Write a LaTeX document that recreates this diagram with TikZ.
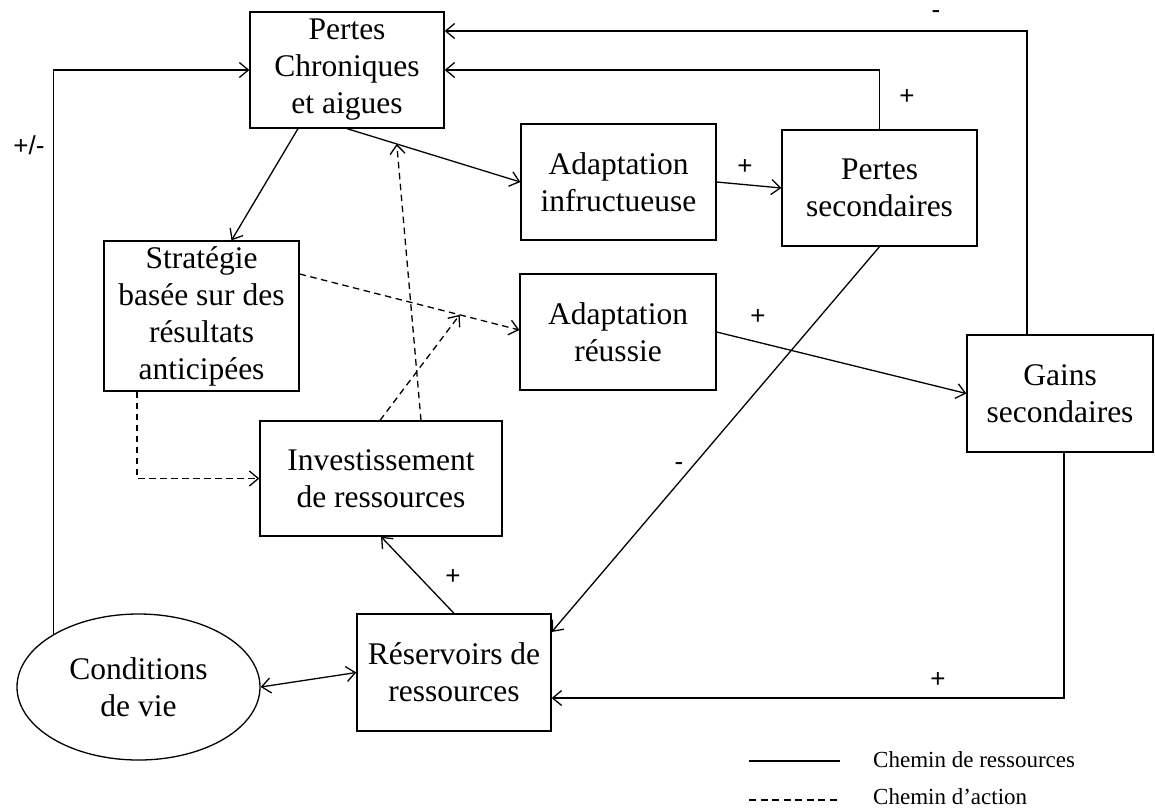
\documentclass[tikz,border=0pt]{standalone}
\usepackage{fontspec}
\setmainfont{Liberation Serif}
\newfontfamily\signfont{Liberation Sans}
\usetikzlibrary{arrows.meta,shapes.geometric}
\begin{document}
\begin{tikzpicture}[x=1pt,y=-1pt,
  box/.style={draw, line width=1.3pt, inner sep=0pt, align=center, font=\fontsize{31.5}{37}\selectfont},
  conn/.style={line width=1.3pt, -{Straight Barb[length=9pt,width=15pt]}},
  biconn/.style={line width=1.3pt, {Straight Barb[length=9pt,width=15pt]}-{Straight Barb[length=9pt,width=15pt]}},
  darr/.style={conn, dash pattern=on 6.5pt off 4.5pt},
  sign/.style={font=\signfont\fontsize{26}{30}\selectfont, inner sep=0pt},
  legendtext/.style={font=\fontsize{23}{27}\selectfont, inner sep=0pt, anchor=base west}
]
\useasboundingbox (0,0) rectangle (1155,809);

% nodes
\node[box, minimum width=194pt, minimum height=116pt] (pc) at (347,70) {Pertes\\Chroniques\\et aigues};
\node[box, minimum width=195pt, minimum height=116pt] (ai) at (618.5,182) {Adaptation\\infructueuse};
\node[box, minimum width=195pt, minimum height=116pt] (ps) at (879.5,188) {Pertes\\secondaires};
\node[box, minimum width=195pt, minimum height=150pt] (st) at (201.5,316) {Stratégie\\basée sur des\\résultats\\anticipées};
\node[box, minimum width=196pt, minimum height=116pt] (ar) at (618,332) {Adaptation\\réussie};
\node[box, minimum width=186pt, minimum height=117pt] (gs) at (1060,393.5) {Gains\\secondaires};
\node[box, minimum width=242pt, minimum height=115pt] (inv) at (381,478.5) {Investissement\\de ressources};
\node[box, minimum width=194pt, minimum height=117pt] (rv) at (454,672.5) {Réservoirs de\\ressources};
\node[box, ellipse, minimum width=243pt, minimum height=146pt] (cv) at (138.5,687) {Conditions\\de vie};

% solid connectors
\draw[conn] (cv.148.7) |- (pc.west);
\draw[conn] ([xshift=-33pt]gs.north) |- ([yshift=39pt]pc.east);
\draw[conn] (ps.north) |- (pc.east);
\draw[conn] ([xshift=-49pt]pc.south) -- ([xshift=30pt]st.north);
\draw[conn] (pc.south) -- coordinate[pos=0.287] (m2) (ai.west);
\draw[conn] (ai.east) -- (ps.west);
\draw[conn] (ps.south) -- ([yshift=40.5pt]rv.east);
\draw[conn] (ar.east) -- (gs.west);
\draw[conn] ([xshift=4pt]gs.south) |- ([yshift=-25.5pt]rv.east);
\draw[conn] (rv.north) -- (inv.south);
\draw[biconn] (cv.east) -- (rv.west);

% dashed connectors
\draw[darr] ([yshift=42pt]st.east) -- coordinate[pos=0.7285] (m1) ([yshift=2pt]ar.west);
\draw[darr] ([xshift=-1pt]inv.north) -- (m1);
\draw[darr] ([xshift=40pt]inv.north) -- (m2);
\draw[darr] ([xshift=-64.5pt]st.south) |- (inv.west);

% signs
\node[sign] (s1) at (29,145) {+/-};
\node[sign] (s2) at (936,15) {-};
\node[sign] (s3) at (907,97) {+};
\node[sign] (s4) at (745,167) {+};
\node[sign] (s5) at (758,317) {+};
\node[sign] (s6) at (679,467) {-};
\node[sign] (s7) at (453,577) {+};
\node[sign] (s8) at (938,680) {+};

% legend
\coordinate (la1) at (749,761);
\coordinate (la2) at (840,761);
\coordinate (lb1) at (749,800);
\coordinate (lb2) at (840,800);
\draw[line width=1.3pt] (la1) -- (la2);
\draw[line width=1.3pt, dash pattern=on 7pt off 4.5pt] (lb1) -- (lb2);
\node[legendtext] (lt1) at (873,767) {Chemin de ressources};
\node[legendtext] (lt2) at (873,804) {Chemin d’action};
\end{tikzpicture}
\end{document}
